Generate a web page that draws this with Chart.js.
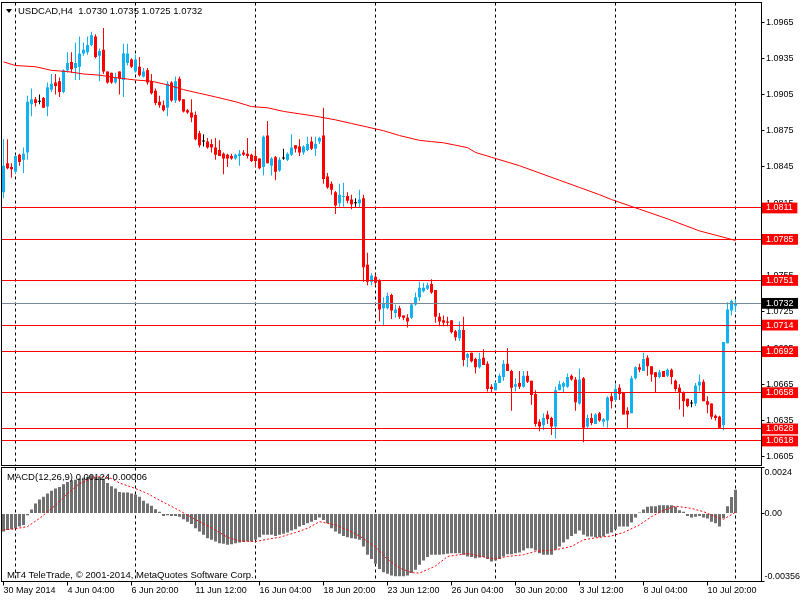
<!DOCTYPE html>
<html>
<head>
<meta charset="utf-8">
<script src="https://cdn.jsdelivr.net/npm/chart.js@4.4.1/dist/chart.umd.min.js"></script>
<style>
  body { margin: 0; background: #fff; }
  #wrap { position: relative; width: 800px; height: 600px; overflow: hidden; background: #fff; }
  #wrap canvas { position: absolute; left: 0; }
  .txt { position: absolute; font: 9.5px "Liberation Sans", Arial, sans-serif; color: #000; white-space: pre; line-height: 11px; }
  .tri { position: absolute; left: 6px; top: 9px; width: 0; height: 0;
         border-left: 3.5px solid transparent; border-right: 3.5px solid transparent; border-top: 4px solid #000; }
</style>
</head>
<body>
<div id="wrap">
  <canvas id="price" width="800" height="466" style="top:0"></canvas>
  <canvas id="macd" width="800" height="134" style="top:466px"></canvas>
  <div class="tri"></div>
  <div class="txt" id="header" style="left:18px;top:5px"></div>
  <div class="txt" id="macdTitle" style="left:7px;top:471px"></div>
  <div class="txt" style="left:7px;top:569px">MT4 TeleTrade, © 2001-2014, MetaQuotes Software Corp.</div>
</div>
<script>
// USDCAD H4, 30 May 2014 12:00 .. 14 Jul 2014 00:00 (184 bars)
const symbol = 'USDCAD,H4';

const opens = [
  1.0824,1.0848,1.0845,1.0841,1.0855,1.0851,1.0857,1.0897,1.0901,1.0899,
  1.0902,1.0895,1.0909,1.0915,1.0916,1.0907,1.0925,1.0932,1.0927,1.0928,
  1.0939,1.0940,1.0946,1.0953,1.0937,1.0942,1.0924,1.0923,1.0915,1.0924,
  1.0917,1.0931,1.0934,1.0924,1.0928,1.0920,1.0925,1.0916,1.0908,1.0899,
  1.0896,1.0894,1.0915,1.0900,1.0918,1.0901,1.0892,1.0890,1.0888,1.0873,
  1.0866,1.0866,1.0864,1.0861,1.0859,1.0856,1.0855,1.0854,1.0852,1.0854,
  1.0857,1.0856,1.0855,1.0854,1.0852,1.0845,1.0871,1.0846,1.0853,1.0842,
  1.0852,1.0851,1.0855,1.0863,1.0862,1.0857,1.0859,1.0866,1.0860,1.0866,
  1.0871,1.0837,1.0831,1.0824,1.0815,1.0820,1.0821,1.0818,1.0815,1.0815,
  1.0819,1.0764,1.0750,1.0754,1.0751,1.0728,1.0728,1.0739,1.0724,1.0728,
  1.0722,1.0720,1.0720,1.0731,1.0737,1.0742,1.0744,1.0748,1.0743,1.0721,
  1.0718,1.0717,1.0718,1.0709,1.0703,1.0710,1.0687,1.0691,1.0686,1.0679,
  1.0687,1.0682,1.0663,1.0660,1.0666,1.0671,1.0682,1.0676,1.0663,1.0666,
  1.0663,1.0672,1.0668,1.0657,1.0634,1.0631,1.0640,1.0637,1.0630,1.0660,
  1.0663,1.0663,1.0672,1.0669,1.0649,1.0670,1.0630,1.0637,1.0632,1.0641,
  1.0634,1.0635,1.0655,1.0652,1.0662,1.0658,1.0643,1.0641,1.0670,1.0679,
  1.0676,1.0687,1.0680,1.0675,1.0671,1.0676,1.0672,1.0677,1.0668,1.0662,
  1.0658,1.0653,1.0649,1.0649,1.0664,1.0667,1.0651,1.0649,1.0639,1.0638,
  1.0631,1.0699,1.0726,1.0730
];
const highs = [
  1.0868,1.0868,1.0848,1.0855,1.0856,1.0861,1.0904,1.0910,1.0903,1.0905,
  1.0903,1.0915,1.0922,1.0922,1.0919,1.0926,1.0940,1.0940,1.0948,1.0953,
  1.0948,1.0953,1.0957,1.0955,1.0943,1.0960,1.0924,1.0923,1.0923,1.0924,
  1.0947,1.0947,1.0935,1.0938,1.0936,1.0927,1.0927,1.0922,1.0910,1.0904,
  1.0900,1.0916,1.0916,1.0920,1.0920,1.0901,1.0893,1.0901,1.0891,1.0875,
  1.0872,1.0869,1.0868,1.0869,1.0867,1.0857,1.0856,1.0856,1.0856,1.0859,
  1.0859,1.0869,1.0856,1.0859,1.0852,1.0871,1.0883,1.0853,1.0854,1.0853,
  1.0860,1.0857,1.0872,1.0863,1.0868,1.0863,1.0870,1.0870,1.0870,1.0870,
  1.0894,1.0840,1.0833,1.0825,1.0831,1.0832,1.0824,1.0822,1.0819,1.0826,
  1.0822,1.0774,1.0757,1.0756,1.0752,1.0737,1.0741,1.0740,1.0731,1.0730,
  1.0722,1.0723,1.0732,1.0741,1.0750,1.0749,1.0749,1.0752,1.0743,1.0724,
  1.0722,1.0721,1.0718,1.0710,1.0717,1.0721,1.0691,1.0691,1.0687,1.0691,
  1.0694,1.0684,1.0665,1.0667,1.0674,1.0685,1.0695,1.0677,1.0670,1.0676,
  1.0676,1.0676,1.0668,1.0660,1.0636,1.0641,1.0643,1.0638,1.0663,1.0668,
  1.0667,1.0674,1.0673,1.0671,1.0678,1.0671,1.0640,1.0641,1.0641,1.0642,
  1.0637,1.0655,1.0658,1.0665,1.0665,1.0658,1.0646,1.0672,1.0680,1.0682,
  1.0691,1.0689,1.0680,1.0675,1.0677,1.0676,1.0678,1.0678,1.0669,1.0665,
  1.0659,1.0653,1.0652,1.0666,1.0673,1.0669,1.0655,1.0649,1.0640,1.0639,
  1.0700,1.0733,1.0735,1.0735
];
const lows = [
  1.0819,1.0843,1.0836,1.0840,1.0846,1.0840,1.0851,1.0887,1.0895,1.0897,
  1.0894,1.0887,1.0907,1.0905,1.0903,1.0906,1.0923,1.0923,1.0917,1.0917,
  1.0937,1.0938,1.0945,1.0935,1.0916,1.0922,1.0914,1.0914,1.0914,1.0905,
  1.0903,1.0929,1.0927,1.0923,1.0920,1.0919,1.0913,1.0905,1.0896,1.0894,
  1.0891,1.0887,1.0899,1.0898,1.0899,1.0890,1.0889,1.0882,1.0867,1.0861,
  1.0862,1.0860,1.0857,1.0851,1.0854,1.0839,1.0845,1.0851,1.0851,1.0846,
  1.0854,1.0852,1.0849,1.0845,1.0843,1.0838,1.0848,1.0838,1.0834,1.0841,
  1.0851,1.0850,1.0854,1.0857,1.0854,1.0855,1.0858,1.0859,1.0854,1.0864,
  1.0831,1.0827,1.0822,1.0806,1.0812,1.0812,1.0815,1.0810,1.0812,1.0811,
  1.0750,1.0747,1.0747,1.0747,1.0717,1.0714,1.0727,1.0719,1.0720,1.0719,
  1.0718,1.0712,1.0719,1.0730,1.0734,1.0741,1.0743,1.0740,1.0716,1.0713,
  1.0713,1.0713,1.0707,1.0701,1.0701,1.0680,1.0679,1.0683,1.0674,1.0678,
  1.0681,1.0659,1.0658,1.0660,1.0666,1.0668,1.0676,1.0643,1.0659,1.0661,
  1.0662,1.0666,1.0648,1.0630,1.0626,1.0627,1.0632,1.0623,1.0620,1.0660,
  1.0658,1.0662,1.0668,1.0643,1.0648,1.0617,1.0629,1.0631,1.0632,1.0634,
  1.0630,1.0629,1.0645,1.0651,1.0652,1.0640,1.0628,1.0641,1.0669,1.0675,
  1.0676,1.0672,1.0667,1.0658,1.0670,1.0671,1.0671,1.0665,1.0659,1.0644,
  1.0638,1.0646,1.0646,1.0647,1.0659,1.0651,1.0641,1.0636,1.0635,1.0629,
  1.0627,1.0699,1.0722,1.0725
];
const closes = [
  1.0846,1.0844,1.0843,1.0854,1.0849,1.0856,1.0899,1.0901,1.0898,1.0899,
  1.0894,1.0911,1.0914,1.0912,1.0907,1.0925,1.0931,1.0926,1.0931,1.0939,
  1.0942,1.0946,1.0954,1.0936,1.0941,1.0924,1.0915,1.0915,1.0919,1.0918,
  1.0939,1.0939,1.0928,1.0934,1.0921,1.0924,1.0915,1.0906,1.0898,1.0896,
  1.0892,1.0914,1.0900,1.0916,1.0900,1.0891,1.0890,1.0886,1.0868,1.0863,
  1.0866,1.0861,1.0861,1.0855,1.0854,1.0852,1.0852,1.0852,1.0855,1.0856,
  1.0855,1.0854,1.0850,1.0850,1.0844,1.0870,1.0848,1.0852,1.0841,1.0851,
  1.0852,1.0856,1.0861,1.0860,1.0857,1.0862,1.0864,1.0860,1.0864,1.0869,
  1.0835,1.0828,1.0826,1.0813,1.0822,1.0821,1.0817,1.0814,1.0815,1.0818,
  1.0762,1.0750,1.0755,1.0749,1.0727,1.0732,1.0738,1.0726,1.0727,1.0721,
  1.0720,1.0717,1.0731,1.0737,1.0745,1.0745,1.0747,1.0741,1.0721,1.0717,
  1.0716,1.0716,1.0708,1.0704,1.0710,1.0685,1.0690,1.0684,1.0679,1.0686,
  1.0681,1.0661,1.0661,1.0666,1.0672,1.0682,1.0676,1.0662,1.0665,1.0663,
  1.0672,1.0667,1.0656,1.0632,1.0630,1.0637,1.0636,1.0630,1.0660,1.0665,
  1.0666,1.0671,1.0669,1.0650,1.0669,1.0629,1.0637,1.0633,1.0640,1.0635,
  1.0636,1.0654,1.0651,1.0661,1.0657,1.0640,1.0640,1.0670,1.0679,1.0677,
  1.0686,1.0680,1.0673,1.0671,1.0675,1.0671,1.0677,1.0671,1.0661,1.0658,
  1.0651,1.0647,1.0649,1.0664,1.0667,1.0651,1.0648,1.0638,1.0637,1.0629,
  1.0700,1.0727,1.0734,1.0732
];

// red moving average, read at these bars
const maBars   = [0, 3, 8, 12, 16, 20, 24, 28, 33, 37, 41, 45, 49, 53, 58, 62, 66, 70, 74, 78,
                  83, 87, 91, 95, 99, 104, 107, 110, 113, 116, 118, 122, 129, 139, 144, 149, 152, 159, 166, 174, 182, 183];
const maValues = [1.0932, 1.0929, 1.0928, 1.0925, 1.0924, 1.0922, 1.0921, 1.0919, 1.0917, 1.0916,
                  1.0913, 1.0909, 1.0906, 1.0903, 1.0899, 1.0895, 1.0894, 1.0891, 1.0889, 1.0887,
                  1.0884, 1.0881, 1.0878, 1.0875, 1.0871, 1.0867, 1.0866, 1.0865, 1.0863, 1.0861,
                  1.0857, 1.0853, 1.0846, 1.0834, 1.0828, 1.0822, 1.0818, 1.0810, 1.0802, 1.0792,
                  1.0785, 1.0784];

// MACD(12,26,9) main (histogram)
const macdMain = [
  -0.00095,-0.00087,-0.00083,-0.00078,-0.00069,-0.00061,-0.00010,0.00020,0.00052,0.00073,
  0.00087,0.00104,0.00118,0.00130,0.00138,0.00152,0.00164,0.00173,0.00176,0.00182,
  0.00187,0.00190,0.00199,0.00192,0.00190,0.00182,0.00159,0.00142,0.00130,0.00112,
  0.00109,0.00109,0.00104,0.00099,0.00087,0.00066,0.00052,0.00040,0.00022,0.00009,
  -0.00014,-0.00009,-0.00014,-0.00014,-0.00017,-0.00031,-0.00043,-0.00055,-0.00078,-0.00095,
  -0.00112,-0.00130,-0.00138,-0.00147,-0.00156,-0.00159,-0.00164,-0.00161,-0.00156,-0.00152,
  -0.00150,-0.00147,-0.00147,-0.00138,-0.00125,-0.00112,-0.00112,-0.00112,-0.00118,-0.00112,
  -0.00107,-0.00100,-0.00090,-0.00083,-0.00069,-0.00061,-0.00052,-0.00043,-0.00035,-0.00022,
  -0.00035,-0.00052,-0.00078,-0.00095,-0.00107,-0.00118,-0.00125,-0.00130,-0.00133,-0.00138,
  -0.00173,-0.00216,-0.00239,-0.00263,-0.00290,-0.00308,-0.00315,-0.00325,-0.00329,-0.00329,
  -0.00329,-0.00325,-0.00311,-0.00294,-0.00268,-0.00246,-0.00228,-0.00216,-0.00216,-0.00216,
  -0.00213,-0.00211,-0.00208,-0.00208,-0.00208,-0.00216,-0.00225,-0.00228,-0.00234,-0.00230,
  -0.00228,-0.00239,-0.00251,-0.00246,-0.00239,-0.00225,-0.00213,-0.00213,-0.00208,-0.00204,
  -0.00194,-0.00182,-0.00182,-0.00194,-0.00208,-0.00216,-0.00216,-0.00216,-0.00190,-0.00173,
  -0.00152,-0.00135,-0.00118,-0.00107,-0.00090,-0.00112,-0.00121,-0.00121,-0.00125,-0.00125,
  -0.00121,-0.00107,-0.00100,-0.00083,-0.00069,-0.00069,-0.00069,-0.00048,-0.00021,0.00005,
  0.00021,0.00035,0.00038,0.00038,0.00043,0.00043,0.00043,0.00043,0.00035,0.00017,
  0.00009,-0.00014,-0.00021,-0.00017,-0.00014,-0.00021,-0.00026,-0.00043,-0.00052,-0.00069,
  -0.00025,0.00038,0.00086,0.00124
];
// MACD signal (red dotted), read at these bars
const signalBars   = [0, 3, 6, 9, 13, 16, 19, 23, 25, 27, 29, 33, 36, 39, 43, 46, 49, 53, 56, 59,
                      63, 66, 69, 73, 76, 79, 83, 86, 89, 93, 96, 99, 102, 104, 108, 111, 116, 121, 123, 126,
                      130, 133, 138, 142, 145, 149, 152, 155, 159, 162, 165, 168, 172, 175, 178, 180, 183];
const signalValues = [-0.00087, -0.00080, -0.00069, -0.00026, 0.00043, 0.00104, 0.00156, 0.00190, 0.00194, 0.00182,
                      0.00159, 0.00130, 0.00104, 0.00069, 0.00026, -0.00009, -0.00043, -0.00087, -0.00125, -0.00144,
                      -0.00147, -0.00135, -0.00125, -0.00100, -0.00078, -0.00043, -0.00061, -0.00087, -0.00118, -0.00175,
                      -0.00240, -0.00285, -0.00310, -0.00312, -0.00275, -0.00225, -0.00210, -0.00232, -0.00238, -0.00225,
                      -0.00216, -0.00199, -0.00190, -0.00173, -0.00138, -0.00125, -0.00118, -0.00100, -0.00060, -0.00017,
                      0.00017, 0.00038, 0.00026, 0.00009, -0.00017, -0.00031, 0.00006];

// horizontal levels and current bid
const levelPrices = [1.0811, 1.0785, 1.0751, 1.0714, 1.0692, 1.0658, 1.0628, 1.0618];
const bidPrice = 1.0732;

// axes
const priceTicks = [1.0605, 1.0635, 1.0665, 1.0695, 1.0725, 1.0755, 1.0785, 1.0815, 1.0845, 1.0875, 1.0905, 1.0935, 1.0965];
const priceMin = 1.05977, priceMax = 1.09812;
const macdTicks = [-0.00356, 0, 0.0024];
const macdTickLabels = ['-0.00356', '0.00', '0.0024'];
const timeTickBars = [0, 16, 32, 48, 64, 80, 96, 112, 128, 144, 160, 176];
const timeTickLabels = ['30 May 2014', '4 Jun 04:00', '6 Jun 20:00', '11 Jun 12:00', '16 Jun 04:00', '18 Jun 20:00',
                        '23 Jun 12:00', '26 Jun 04:00', '30 Jun 20:00', '3 Jul 12:00', '8 Jul 04:00', '10 Jul 20:00'];
const weekStartBars = [3, 33, 63, 93, 123, 153, 183];
const slotCount = 190; // bars plus the empty shift on the right

const last = opens.length - 1;
document.getElementById('header').textContent =
  `${symbol}  ${opens[last].toFixed(4)} ${highs[last].toFixed(4)} ${lows[last].toFixed(4)} ${closes[last].toFixed(4)}`;
document.getElementById('macdTitle').textContent =
  `MACD(12,26,9) ${macdMain[last].toFixed(5)} ${signalValues[signalValues.length - 1].toFixed(5)}`;

Chart.defaults.font.family = '"Liberation Sans", Arial, sans-serif';
Chart.defaults.font.size = 9;
Chart.defaults.color = '#000';

const BULL = '#12B2F2', BEAR = '#FF0000', DOJI = '#000000';
const NONE = 'rgba(0,0,0,0)';
const candleColors = closes.map((c, i) => (c > opens[i] ? BULL : c < opens[i] ? BEAR : DOJI));
const slots = Array.from({ length: slotCount }, (_, i) => i);

// one price axis carries the plain ticks, then the level and bid labels on top of them
const priceAxisTicks = priceTicks.map((v) => ({ value: v, kind: 'price' }))
  .concat(levelPrices.map((v) => ({ value: v, kind: 'level' })))
  .concat([{ value: bidPrice, kind: 'bid' }]);
const kindOf = (ctx) => (ctx.tick ? ctx.tick.kind : 'price');

// fixed box sizes so the panes keep the terminal's geometry
function fixWidth(w) {
  return (s) => { s.width = w; s.paddingTop = 0; s.paddingBottom = 0; };
}
function fixHeight(h) {
  return (s) => { s.height = h; s.paddingLeft = 0; s.paddingRight = 0; };
}

const paneFrame = {
  id: 'paneFrame',
  afterDraw(chart) {
    const { ctx, chartArea: a } = chart;
    ctx.save();
    ctx.strokeStyle = '#000';
    ctx.lineWidth = 1;
    ctx.strokeRect(a.left, a.top, a.right - a.left, a.bottom - a.top);
    ctx.restore();
  },
};

function weekGrid() {
  return {
    type: 'category',
    labels: slots,
    offset: true,
    position: 'bottom',
    weight: 0,
    afterBuildTicks: (s) => { s.ticks = weekStartBars.map((v) => ({ value: v })); },
    afterFit: fixHeight(0),
    ticks: { display: false },
    grid: { offset: false, drawTicks: false, color: '#000', lineWidth: 1 },
    border: { display: false, dash: [3, 3] },
  };
}

const common = {
  responsive: false,
  animation: false,
  devicePixelRatio: 1,
  events: [],
  plugins: { legend: { display: false }, tooltip: { enabled: false } },
};

new Chart(document.getElementById('price').getContext('2d'), {
  type: 'bar',
  data: {
    labels: slots,
    datasets: [
      {
        type: 'line',
        data: maBars.map((b, i) => ({ x: b, y: maValues[i] })),
        borderColor: '#FF0000',
        borderWidth: 1,
        pointRadius: 0,
        spanGaps: true,
        order: -1,
      },
      {
        data: opens.map((o, i) => [o, closes[i]]),
        backgroundColor: candleColors,
        barThickness: 3,
        minBarLength: 1,
        grouped: false,
        inflateAmount: 0,
        borderWidth: 0,
        order: 0,
      },
      {
        data: lows.map((l, i) => [l, highs[i]]),
        backgroundColor: candleColors,
        barThickness: 1,
        grouped: false,
        inflateAmount: 0,
        borderWidth: 0,
        order: 1,
      },
    ],
  },
  options: {
    ...common,
    layout: { padding: { left: 1.5, top: 2.5, right: 0, bottom: 0.5 } },
    scales: {
      x: { display: false },
      xw: weekGrid(),
      y: {
        type: 'linear',
        position: 'right',
        min: priceMin,
        max: priceMax,
        afterBuildTicks: (s) => { s.ticks = priceAxisTicks.map((t) => ({ ...t })); },
        afterFit: fixWidth(38.5),
        grid: {
          z: 1,
          tickLength: 3,
          color: (ctx) => ({ price: NONE, level: '#FF0000', bid: '#778899' })[kindOf(ctx)],
          tickColor: (ctx) => (kindOf(ctx) === 'price' ? '#000' : NONE),
        },
        border: { display: false },
        ticks: {
          z: 1,
          autoSkip: false,
          padding: 1.5,
          color: (ctx) => (kindOf(ctx) === 'price' ? '#000' : '#fff'),
          showLabelBackdrop: (ctx) => kindOf(ctx) !== 'price',
          backdropColor: (ctx) => (kindOf(ctx) === 'bid' ? '#000' : '#FF0000'),
          backdropPadding: { left: 4, right: 4.5, top: 0, bottom: 0 },
          callback: (v) => v.toFixed(4),
        },
      },
    },
  },
  plugins: [paneFrame],
});

new Chart(document.getElementById('macd').getContext('2d'), {
  type: 'bar',
  data: {
    labels: slots,
    datasets: [
      {
        type: 'line',
        data: signalBars.map((b, i) => ({ x: b, y: signalValues[i] })),
        borderColor: '#FF0000',
        borderWidth: 1,
        borderDash: [2, 2],
        pointRadius: 0,
        spanGaps: true,
        order: -1,
      },
      {
        data: macdMain,
        backgroundColor: '#707070',
        barThickness: 3,
        inflateAmount: 0,
        borderWidth: 0,
        order: 0,
      },
    ],
  },
  options: {
    ...common,
    layout: { padding: { left: 1.5, top: 1.5, right: 0, bottom: 0 } },
    scales: {
      x: {
        position: 'bottom',
        weight: 1,
        afterBuildTicks: (s) => { s.ticks = timeTickBars.map((v) => ({ value: v })); },
        afterFit: fixHeight(18.5),
        grid: { drawOnChartArea: false, offset: false, tickLength: 4, tickColor: '#000' },
        border: { display: false },
        ticks: {
          autoSkip: false,
          maxRotation: 0,
          align: 'start',
          padding: 0,
          callback: (v) => timeTickLabels[timeTickBars.indexOf(v)],
        },
      },
      xw: weekGrid(),
      y: {
        type: 'linear',
        position: 'right',
        min: macdTicks[0],
        max: macdTicks[macdTicks.length - 1],
        afterBuildTicks: (s) => { s.ticks = macdTicks.map((v) => ({ value: v })); },
        afterFit: fixWidth(38.5),
        grid: { drawOnChartArea: false, tickLength: 3, tickColor: '#000' },
        border: { display: false },
        ticks: {
          padding: 0,
          autoSkip: false,
          callback: (v) => {
            const text = macdTickLabels[macdTicks.indexOf(v)];
            // keep the edge labels inside the pane, as the terminal does
            if (v === macdTicks[macdTicks.length - 1]) return ['', text];
            if (v === macdTicks[0]) return [text, ''];
            return text;
          },
        },
      },
    },
  },
  plugins: [paneFrame],
});
</script>
</body>
</html>
